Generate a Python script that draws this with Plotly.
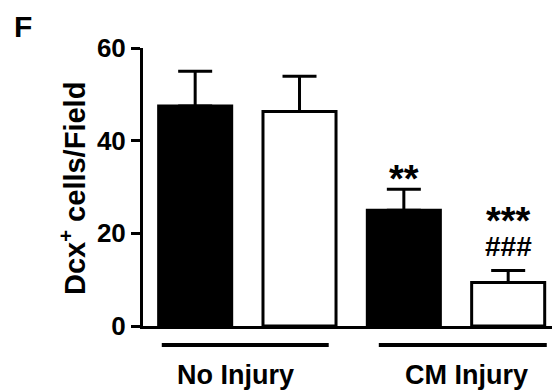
import plotly.graph_objects as go

# Data
categories = ["NI-A", "NI-B", "CM-A", "CM-B"]
means = [47.5, 46.3, 25.0, 9.4]
errors = [7.5, 7.6, 4.5, 2.6]
fill_colors = ["black", "white", "black", "white"]
tick_vals = [0, 20, 40, 60]
group_labels = ["No Injury", "CM Injury"]
sig_labels = ["**", "***", "###"]

FONT = "Liberation Sans, Arial, sans-serif"
xs = list(range(len(categories)))

fig = go.Figure()
fig.add_trace(go.Bar(
    x=xs, y=means, width=0.70,
    marker=dict(color=fill_colors, line=dict(color="black", width=3)),
    error_y=dict(type="data", array=errors, arrayminus=[0] * len(errors),
                 symmetric=False, color="black", thickness=3, width=17),
    showlegend=False, hoverinfo="skip",
))

fig.update_layout(
    width=552, height=390,
    margin=dict(l=143, r=0, t=48, b=64),
    paper_bgcolor="white", plot_bgcolor="white",
    bargap=0.3,
    xaxis=dict(range=[-0.5, 3.42], showticklabels=False, ticks="",
               showline=True, linecolor="black", linewidth=3,
               showgrid=False, zeroline=False, fixedrange=True),
    yaxis=dict(range=[0, 60], tickvals=tick_vals, ticks="outside",
               ticklen=9, tickwidth=3, tickcolor="black",
               showline=True, linecolor="black", linewidth=3,
               showgrid=False, zeroline=False, fixedrange=True,
               tickfont=dict(family=FONT, size=26, color="black", weight="bold")),
    font=dict(family=FONT, color="black"),
)

# Group lines under the axis
group_spans = [(-0.32, 1.28), (1.76, 3.37)]
for (x0, x1) in group_spans:
    fig.add_shape(type="line", xref="x", yref="paper", x0=x0, x1=x1,
                  y0=-0.068, y1=-0.068, line=dict(color="black", width=4))

# Group labels
group_centers = [0.39, 2.60]
for lab, xc in zip(group_labels, group_centers):
    fig.add_annotation(text=lab, x=xc, xref="x", y=-0.176, yref="paper",
                       xanchor="center", yanchor="middle", showarrow=False,
                       font=dict(family=FONT, size=27, color="black", weight="bold"))

# Significance marks
sig_pos = [(2, 33.0), (3, 24.0), (3, 17.1)]
for lab, (xc, yc) in zip(sig_labels, sig_pos):
    star = "*" in lab
    fig.add_annotation(text=lab, x=xc, xref="x", y=yc, yref="y",
                       xanchor="center", yanchor="middle", showarrow=False,
                       yshift=-6 if star else 0,
                       font=dict(family=FONT, size=38 if star else 28,
                                 color="black", weight="bold"))

# Y axis title
fig.add_annotation(text="Dcx<sup>+</sup> cells/Field", textangle=-90,
                   x=(73 - 143) / 409, xref="paper", y=(326 - 189) / 278, yref="paper",
                   xanchor="center", yanchor="middle", showarrow=False,
                   font=dict(family=FONT, size=29, color="black", weight="bold"))

# Panel label
fig.add_annotation(text="F", x=(12 - 143) / 409, xref="paper",
                   y=(326 - 8) / 278, yref="paper", xanchor="left", yanchor="top",
                   showarrow=False,
                   font=dict(family=FONT, size=30, color="black", weight="bold"))

fig.write_html("out.html", config={"displayModeBar": False},
               post_script="document.body.style.margin='0';")
